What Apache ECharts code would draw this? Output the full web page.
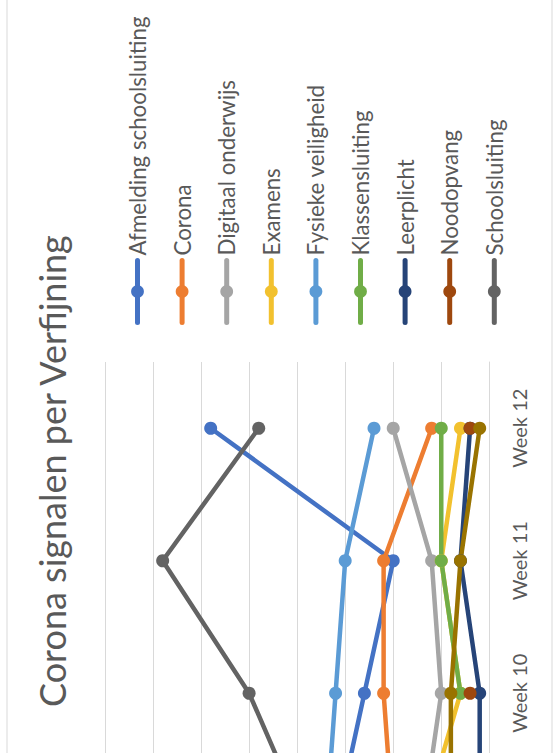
<!DOCTYPE html>
<html>
<head>
<meta charset="utf-8">
<script src="https://cdn.jsdelivr.net/npm/echarts@6/dist/echarts.min.js"></script>
<style>
html,body{margin:0;padding:0;width:557px;height:753px;overflow:hidden;background:#ffffff;}
#frame{position:absolute;left:0;top:0;width:753px;height:557px;overflow:hidden;transform-origin:0 0;transform:translate(0,753px) rotate(-90deg);background:#fff;}
#chart{position:absolute;left:-139px;top:0;width:892px;height:557px;}
</style>
</head>
<body>
<div id="frame"><div id="chart"></div></div>
<script>
// Data (categories: Week 9 is only partly visible at the cut edge)
const categories = ['Week 9', 'Week 10', 'Week 11', 'Week 12'];
const visibleTickLabels = ['Week 10', 'Week 11', 'Week 12'];
const afmeldingSchoolsluiting = [16, 13, 10, 29];
const corona = [10, 11, 11, 6];
const digitaalOnderwijs = [7, 5, 6, 10];
const examens = [7, 3, 5, 3];
const fysiekeVeiligheid = [17, 16, 15, 12];
const klassensluiting = [null, 3, 5, 5];
const leerplicht = [1, 1, 3, 2];
const noodopvang = [null, 2, null, 2];
const schoolsluiting = [19, 25, 34, 24];
const overig = [4, 4, 3, 1];
const seriesNames = ['Afmelding schoolsluiting', 'Corona', 'Digitaal onderwijs', 'Examens', 'Fysieke veiligheid', 'Klassensluiting', 'Leerplicht', 'Noodopvang', 'Schoolsluiting', 'Overig'];
const seriesValues = [afmeldingSchoolsluiting, corona, digitaalOnderwijs, examens, fysiekeVeiligheid, klassensluiting, leerplicht, noodopvang, schoolsluiting, overig];
const seriesColors = ['#4472C4', '#ED7D31', '#A5A5A5', '#F2C12E', '#5B9BD5', '#70AD47', '#264478', '#9E480E', '#636363', '#997300'];
const legendNames = seriesNames.slice(0, 9);
const yMin = 0, yMax = 40, yInterval = 5;

const chart = echarts.init(document.getElementById('chart'), null, {renderer: 'svg'});
const FONT = 'Lato, "Open Sans", sans-serif';
chart.setOption({
  animation: false,
  backgroundColor: '#ffffff',
  title: {
    text: 'Corona signalen per Verfijning',
    left: 180,
    top: 29,
    textStyle: {fontFamily: FONT, fontSize: 36, fontWeight: 'normal', color: '#595959'}
  },
  legend: {
    data: legendNames,
    orient: 'vertical',
    left: 562,
    top: 119.5,
    itemWidth: 62,
    itemHeight: 16,
    itemGap: 18.6,
    lineStyle: {width: 5, cap: 'round'},
    textStyle: {fontFamily: FONT, fontSize: 22.3, color: '#595959', lineHeight: 26}
  },
  grid: {left: 0, width: 530, top: 105, bottom: 67.7, containLabel: false},
  xAxis: {
    type: 'category',
    data: categories,
    boundaryGap: true,
    axisLine: {lineStyle: {color: '#D9D9D9', width: 1}},
    axisTick: {show: false},
    axisLabel: {
      fontFamily: FONT, fontSize: 20, color: '#595959', margin: 20,
      formatter: v => (visibleTickLabels.indexOf(v) >= 0 ? v : '')
    }
  },
  yAxis: {
    type: 'value',
    min: yMin, max: yMax, interval: yInterval,
    axisLine: {show: false},
    axisTick: {show: false},
    axisLabel: {show: false},
    splitLine: {lineStyle: {color: '#D9D9D9', width: 1}}
  },
  graphic: [{
    type: 'rect',
    shape: {x: -10, y: 7, width: 912, height: 545},
    style: {fill: 'none', stroke: '#D9D9D9', lineWidth: 1},
    silent: true, z: -1
  }],
  series: seriesNames.map((n, i) => ({
    name: n,
    type: 'line',
    data: seriesValues[i],
    connectNulls: false,
    symbol: 'circle',
    symbolSize: 13,
    showSymbol: true,
    lineStyle: {width: 4.5, color: seriesColors[i]},
    itemStyle: {color: seriesColors[i]}
  }))
});
</script>
</body>
</html>
